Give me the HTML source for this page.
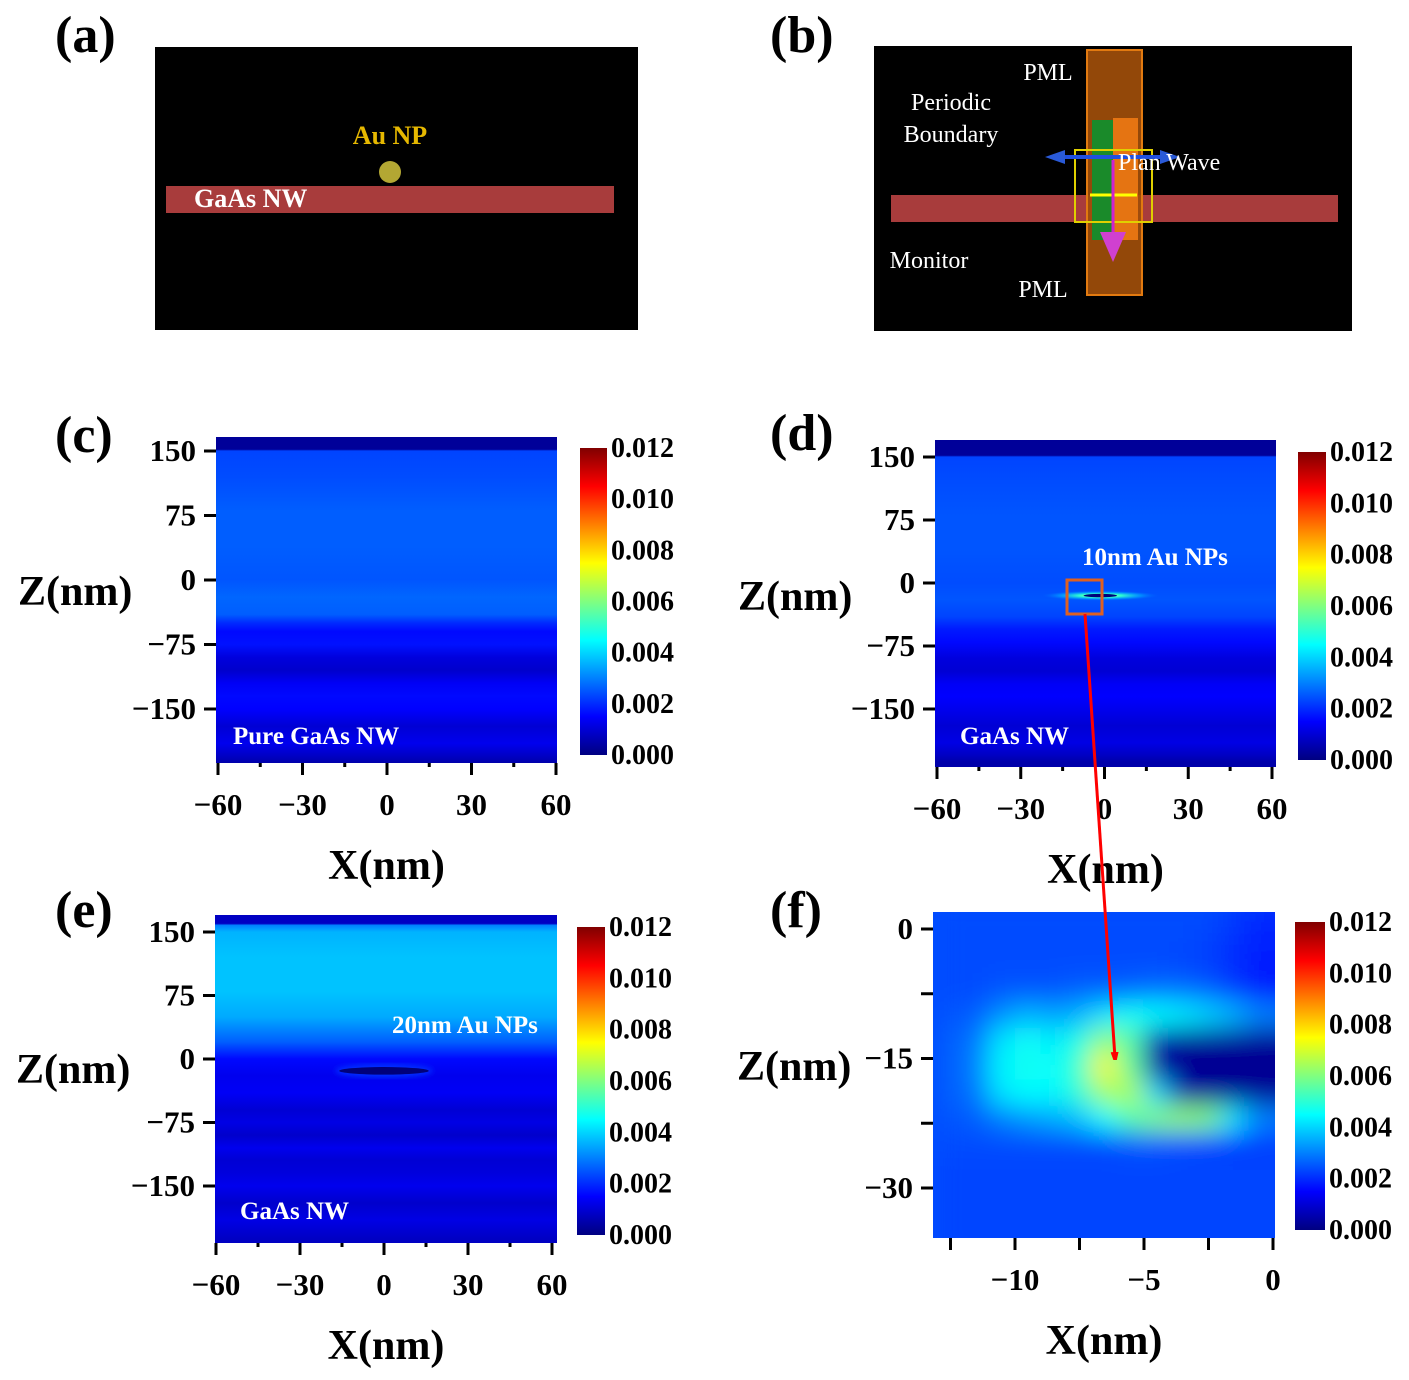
<!DOCTYPE html>
<html><head><meta charset="utf-8"><style>
html,body{margin:0;padding:0;background:#fff}
svg{display:block;font-family:"Liberation Serif",serif}
</style></head><body>
<svg id="fig" width="1409" height="1380" viewBox="0 0 1409 1380" xmlns="http://www.w3.org/2000/svg">
<defs>
<filter id="blurF" x="-10%" y="-10%" width="120%" height="120%"><feGaussianBlur stdDeviation="13"/></filter>
<filter id="blurS"><feGaussianBlur stdDeviation="3"/></filter>
<radialGradient id="glowD"><stop offset="0" stop-color="#ffff30"/><stop offset="0.35" stop-color="#30ffd0"/><stop offset="0.7" stop-color="#00a0ff" stop-opacity="0.7"/><stop offset="1" stop-color="#0060ff" stop-opacity="0"/></radialGradient>
<marker id="arrRed" markerWidth="8" markerHeight="8" refX="6" refY="4" orient="auto" markerUnits="userSpaceOnUse"><path d="M0,0 L14,4 L0,8 z" fill="#ff0000"/></marker>
</defs>

<g>
<text x="55" y="52" font-size="52" font-weight="bold">(a)</text>
<rect x="155" y="47" width="483" height="283" fill="#000"/>
<rect x="166" y="186" width="448" height="27" fill="#a83c3c"/>
<circle cx="390" cy="172" r="11" fill="#b3a733"/>
<text x="390" y="144" font-size="26" font-weight="bold" fill="#e6b800" text-anchor="middle">Au NP</text>
<text x="194" y="207" font-size="26" font-weight="bold" fill="#fff">GaAs NW</text>
</g>

<g>
<text x="770" y="52" font-size="52" font-weight="bold">(b)</text>
<rect x="874" y="46" width="478" height="285" fill="#000"/>
<rect x="891" y="195" width="447" height="27" fill="#a83c3c"/>
<rect x="1087" y="50" width="55" height="245" fill="#a04e0a" fill-opacity="0.92" stroke="#e27a10" stroke-width="2"/>
<rect x="1092" y="120" width="21" height="120" fill="#1a8a2a"/>
<rect x="1113" y="118" width="25" height="122" fill="#e57412"/>
<rect x="1075" y="150" width="77" height="72" fill="none" stroke="#e0d000" stroke-width="2"/>
<line x1="1090" y1="195" x2="1137" y2="195" stroke="#ffff00" stroke-width="3"/>
<line x1="1052" y1="157" x2="1172" y2="157" stroke="#2050e0" stroke-width="4"/>
<path d="M1045,157 L1065,150 L1065,164 z M1180,157 L1160,150 L1160,164 z" fill="#2a5ad8"/>
<line x1="1113" y1="160" x2="1113" y2="240" stroke="#d020d0" stroke-width="3"/>
<path d="M1100,232 L1126,232 L1113,262 z" fill="#d040d0"/>
<g fill="#fff" font-size="24">
<text x="1048" y="80" text-anchor="middle">PML</text>
<text x="951" y="110" text-anchor="middle">Periodic</text>
<text x="951" y="142" text-anchor="middle">Boundary</text>
<text x="1118" y="170">Plan  Wave</text>
<text x="929" y="268" text-anchor="middle">Monitor</text>
<text x="1043" y="297" text-anchor="middle">PML</text>
</g>
</g>

<g id="plots"></g>
<line x1="1085" y1="614" x2="1115" y2="1058" stroke="#ff0000" stroke-width="3" marker-end="url(#arrRed)"/>
</svg>

<script>
// ---------- data ----------
const colorbarTicks = ["0.000","0.002","0.004","0.006","0.008","0.010","0.012"];
const colorMax = 12; // units of 1e-3
const bigXTicks = [-60,-30,0,30,60];
const bigZTicks = [150,75,0,-75,-150];
const cBandZ = [166,152,150,120,80,40,0,-20,-40,-50,-60,-75,-90,-105,-120,-135,-150,-170,-190,-205,-213];
const cBandV = [0.3,0.3,2.3,2.4,2.6,2.6,2.5,2.7,2.6,2.0,1.6,1.7,1.1,0.9,1.4,1.6,1.5,1.0,1.3,0.8,0.5];
const dBandZ = [166,152,150,120,80,40,0,-20,-40,-55,-70,-90,-105,-120,-135,-150,-170,-190,-205,-213];
const dBandV = [0.3,0.3,2.3,2.4,2.5,2.5,2.4,2.5,2.3,1.8,1.6,1.1,1.0,1.4,1.5,1.3,1.0,1.2,0.8,0.5];
const eBandZ = [166,160,158,150,120,80,50,20,0,-20,-40,-60,-75,-90,-105,-120,-135,-150,-170,-190,-213];
const eBandV = [0.8,0.8,3.0,3.6,3.8,3.8,3.5,2.6,1.6,1.3,1.4,1.0,1.2,0.9,1.3,1.0,1.1,1.3,0.9,1.2,0.8];
const fXTicks = [-10,-5,0];
const fZTicks = [0,-15,-30];
const fCols = [-12.5,-11.5,-10.5,-9.5,-8.5,-7.5,-6.5,-5.5,-4.5,-3.5,-2.5,-1.5,-0.5];
const fRows = [2,-1,-4,-7,-10,-13,-16,-19,-22,-25,-28,-31,-34,-37];
const fGrid = [
[2.4,2.4,2.4,2.4,2.4,2.4,2.4,2.4,2.4,2.4,2.4,2.2,2.0],
[2.4,2.4,2.4,2.4,2.4,2.4,2.4,2.4,2.4,2.4,2.3,2.1,1.9],
[2.4,2.4,2.4,2.4,2.4,2.4,2.4,2.4,2.4,2.3,2.2,2.0,1.8],
[2.4,2.4,2.5,2.5,2.5,2.6,2.6,2.7,2.8,2.8,2.6,2.2,1.8],
[2.5,2.6,3.2,3.6,3.4,3.6,4.2,4.6,4.5,4.3,4.0,3.6,3.0],
[2.6,2.9,4.2,4.6,4.3,4.8,6.2,5.5,0.6,0.3,0.3,0.3,0.3],
[2.6,3.0,4.4,4.7,4.5,5.2,7.6,5.6,0.4,0.2,0.2,0.2,0.2],
[2.6,2.9,4.2,4.5,4.4,5.0,6.4,6.5,4.0,0.5,0.3,0.3,0.3],
[2.5,2.6,3.0,3.3,3.5,3.8,4.5,5.5,6.0,6.2,6.0,4.2,3.0],
[2.4,2.4,2.4,2.4,2.4,2.4,2.4,2.5,2.5,2.4,2.3,2.2,2.2],
[2.3,2.3,2.3,2.3,2.3,2.3,2.3,2.3,2.3,2.3,2.3,2.3,2.3],
[2.3,2.3,2.3,2.3,2.3,2.3,2.3,2.3,2.3,2.3,2.3,2.3,2.3],
[2.3,2.3,2.3,2.3,2.3,2.3,2.3,2.3,2.3,2.3,2.3,2.3,2.3],
[2.3,2.3,2.3,2.3,2.3,2.3,2.3,2.3,2.3,2.3,2.3,2.3,2.3]];
const dParticle = [-1.5,-15,6,2];
const eParticle = [0,-14,16,4.5];

// ---------- helpers ----------
const NS="http://www.w3.org/2000/svg";
const root=document.getElementById('plots');
const defs=document.querySelector('defs');
function mk(tag,attrs,parent){const e=document.createElementNS(NS,tag);for(const k in attrs)e.setAttribute(k,attrs[k]);(parent||root).appendChild(e);return e;}
function cl(x){return Math.max(0,Math.min(1,x));}
function jet(val){const v=cl(val/colorMax);const r=cl(1.5-Math.abs(4*v-3)),g=cl(1.5-Math.abs(4*v-2)),b=cl(1.5-Math.abs(4*v-1));return `rgb(${Math.round(r*255)},${Math.round(g*255)},${Math.round(b*255)})`;}
let gid=0;

function panel(p){
  const g=mk('g',{});
  
  
  const xs=v=>p.px0+(v-p.x0)*(p.px1-p.px0)/(p.x1-p.x0);
  const zs=v=>p.py0+(v-p.z0)*(p.py1-p.py0)/(p.z1-p.z0);
  const lab=mk('text',{x:p.lx,y:p.ly,'font-size':52,'font-weight':'bold'},g);lab.textContent='('+p.id+')';
  
  
  const hm=mk('g',{},g);
  
  
  const cid='clip'+(gid++);
  const cp=mk('clipPath',{id:cid},defs);mk('rect',{x:p.hx,y:p.hy,width:p.hw,height:p.hh},cp);
  hm.setAttribute('clip-path',`url(#${cid})`);
  if(p.bandZ){
    const id='grad'+(gid++);
    const lg=mk('linearGradient',{id:id,x1:0,y1:0,x2:0,y2:1},defs);
    p.bandZ.forEach((z,i)=>{const off=(zs(z)-p.hy)/p.hh;mk('stop',{offset:cl(off),'stop-color':jet(p.bandV[i])},lg);});
    mk('rect',{x:p.hx,y:p.hy,width:p.hw,height:p.hh,fill:`url(#${id})`},hm);
  }
  if(p.grid){
    mk('rect',{x:p.hx,y:p.hy,width:p.hw,height:p.hh,fill:jet(2.4)},hm);
    const gg=mk('g',{filter:'url(#blurF)'},hm);
    const dx=Math.abs(xs(1)-xs(0)), dz=Math.abs(zs(3)-zs(0));
    p.grid.forEach((row,i)=>row.forEach((v,j)=>{
      const ext=(j===row.length-1)?40:0;
      const c=mk('rect',{x:xs(p.cols[j])-dx/2-0.5,y:zs(p.rows[i])-dz/2-0.5,width:dx+1+ext,height:dz+1,fill:jet(v)},gg);
      
      
    }));
  }
  if(p.particle){
    const [x,z,w,h]=p.particle;
    if(p.glow){const gl=mk('ellipse',{cx:xs(x),cy:zs(z),rx:Math.abs(xs(w)-xs(0))*3.5,ry:Math.abs(zs(h)-zs(0))*3,fill:'url(#glowD)'},hm);
      }
    else {mk('ellipse',{cx:xs(x),cy:zs(z),rx:Math.abs(xs(w)-xs(0))+4,ry:Math.abs(zs(h)-zs(0))+3,fill:'#0030ff',filter:'url(#blurS)'},hm);}
    const pe=mk('ellipse',{cx:xs(x),cy:zs(z),rx:Math.abs(xs(w)-xs(0)),ry:Math.abs(zs(h)-zs(0)),fill:'#00007a'},hm);
    
    
  }
  const ax=mk('g',{stroke:'#000','stroke-width':3},g);
  p.zt.forEach(z=>{mk('line',{x1:p.hx-12,x2:p.hx,y1:zs(z),y2:zs(z)},ax);
    const t=mk('text',{x:p.hx-20,y:zs(z)+10,'font-size':31,'font-weight':'bold','text-anchor':'end'},g);t.textContent=String(z).replace('-','\u2212');
    });
  (p.zminor||[]).forEach(z=>mk('line',{x1:p.hx-12,x2:p.hx,y1:zs(z),y2:zs(z)},ax));
  p.xt.forEach(x=>{mk('line',{x1:xs(x),x2:xs(x),y1:p.hy+p.hh,y2:p.hy+p.hh+12},ax);
    const t=mk('text',{x:xs(x),y:p.hy+p.hh+52,'font-size':31,'font-weight':'bold','text-anchor':'middle'},g);t.textContent=String(x).replace('-','\u2212');
    });
  (p.xminor||[]).forEach(x=>mk('line',{x1:xs(x),x2:xs(x),y1:p.hy+p.hh,y2:p.hy+p.hh+(p.minorLen||4)},ax));
  const xt=mk('text',{x:p.hx+p.hw/2,y:p.hy+p.hh+116,'font-size':42,'font-weight':'bold','text-anchor':'middle'},g);xt.textContent='X(nm)';
  
  const zt2=mk('text',{x:p.ztx,y:p.zty,'font-size':42,'font-weight':'bold'},g);zt2.textContent='Z(nm)';
  
  const cbid='cb'+(gid++);
  const cg=mk('linearGradient',{id:cbid,x1:0,y1:1,x2:0,y2:0},defs);
  for(let i=0;i<=8;i++)mk('stop',{offset:i/8,'stop-color':jet(colorMax*i/8)},cg);
  const cb=mk('rect',{x:p.cbx,y:p.cby,width:p.cbw,height:p.cbh,fill:`url(#${cbid})`},g);
  
  colorbarTicks.forEach((s,i)=>{const y=p.cby+p.cbh-i*p.cbh/(colorbarTicks.length-1);
    const t=mk('text',{x:p.cbx+p.cbw+4,y:y+9,'font-size':28,'font-weight':'bold'},g);t.textContent=s;
    });
  (p.labels||[]).forEach(L=>{const t=mk('text',{x:L[1],y:L[2],'font-size':25,'font-weight':'bold',fill:'#fff'},g);t.textContent=L[0];
    });
  return {xs,zs,g};
}

panel({id:'c',lx:55,ly:452,hx:216,hy:437,hw:341,hh:326,x0:-60,x1:60,px0:218,px1:556,z0:0,z1:150,py0:580,py1:451,
  bandZ:cBandZ,bandV:cBandV,xt:bigXTicks,zt:bigZTicks,xminor:[-45,-15,15,45],ztx:18,zty:605,
  cbx:580,cby:448,cbw:27,cbh:307,labels:[['Pure GaAs NW',233,744]]});
const d=panel({id:'d',lx:770,ly:450,hx:935,hy:440,hw:341,hh:327,x0:-60,x1:60,px0:937,px1:1272,z0:0,z1:150,py0:583,py1:457,
  bandZ:dBandZ,bandV:dBandV,particle:dParticle,glow:true,xt:bigXTicks,zt:bigZTicks,xminor:[-45,-15,15,45],ztx:738,zty:610,
  cbx:1298,cby:452,cbw:28,cbh:308,labels:[['10nm Au NPs',1082,565],['GaAs NW',960,744]]});
const sq=mk('rect',{x:1067,y:580,width:35,height:34,fill:'none',stroke:'#e06020','stroke-width':3},d.g);


panel({id:'e',lx:55,ly:927,hx:215,hy:915,hw:342,hh:328,x0:-60,x1:60,px0:216,px1:552,z0:0,z1:150,py0:1059,py1:932,
  bandZ:eBandZ,bandV:eBandV,particle:eParticle,glow:false,xt:bigXTicks,zt:bigZTicks,xminor:[-45,-15,15,45],ztx:16,zty:1083,
  cbx:577,cby:927,cbw:28,cbh:308,labels:[['20nm Au NPs',392,1033],['GaAs NW',240,1219]]});
panel({id:'f',lx:770,ly:927,hx:933,hy:912,hw:342,hh:326,x0:-10,x1:0,px0:1015,px1:1273,z0:0,z1:-30,py0:929,py1:1188,
  grid:fGrid,cols:fCols,rows:fRows,xt:fXTicks,zt:fZTicks,xminor:[-12.5,-7.5,-2.5],minorLen:12,zminor:[-7.5,-22.5],ztx:737,zty:1080,
  cbx:1295,cby:922,cbw:30,cbh:308,labels:[]});
</script>
</body></html>
